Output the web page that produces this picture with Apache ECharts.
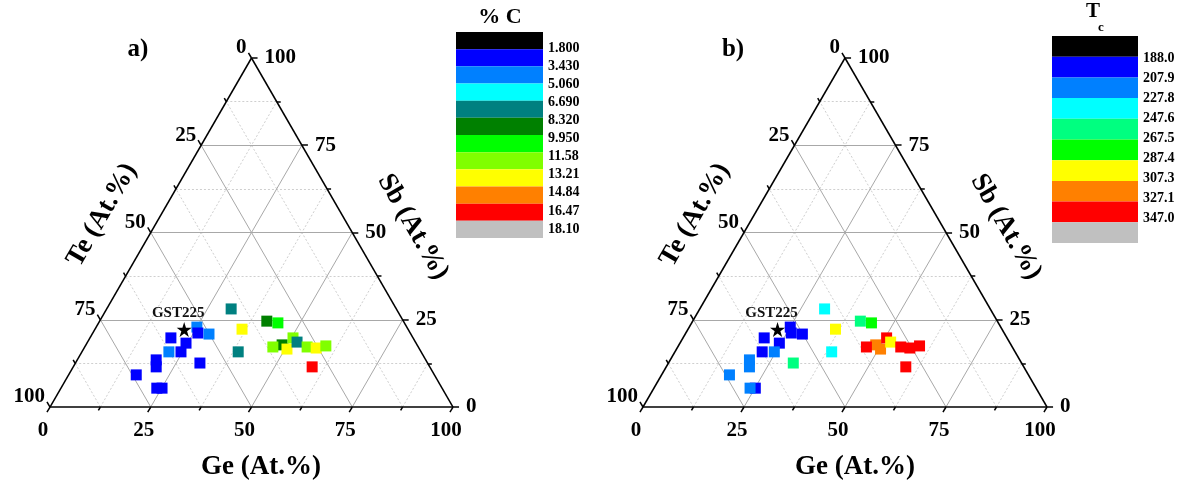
<!DOCTYPE html>
<html><head><meta charset="utf-8">
<script src="https://cdn.jsdelivr.net/npm/echarts@6/dist/echarts.min.js"></script>
<style>html,body{margin:0;padding:0;background:#fff}#c{width:1190px;height:484px}</style>
</head><body><div id="c"></div>
<script>
// ---- data (compositions in at.%; Te = 100 - Ge - Sb) ----
const ge = [30.9, 41.5, 44.5, 36.5, 25.0, 26.1, 29.0, 20.1, 24.6, 21.6, 24.6, 19.6, 20.6, 30.9, 16.8, 25.1, 23.8, 38.8, 48.7, 46.7, 50.5, 50.4, 52.0, 55.2, 57.6, 59.7, 59.3];
const sb = [28.1, 24.6, 24.1, 22.3, 22.9, 21.2, 20.9, 19.8, 18.3, 15.8, 15.8, 13.5, 11.5, 12.6, 9.2, 5.4, 5.4, 15.8, 17.8, 17.2, 16.6, 19.8, 18.6, 17.2, 16.9, 17.5, 11.5];
const carbon = [7.5, 9.1, 10.8, 14.0, 4.2, 2.6, 4.3, 2.5, 2.7, 4.0, 2.9, 2.4, 2.2, 3.0, 2.1, 2.0, 2.3, 7.2, 9.0, 12.4, 14.2, 12.0, 7.8, 12.6, 13.8, 12.2, 17.0];
const tc = [240, 258, 278, 298, 200, 199, 203, 196, 201, 198, 215, 218, 220, 255, 212, 205, 216, 238, 318, 335, 315, 332, 300, 338, 340, 336, 342];
const gst225 = {name: 'GST225', ge: 22.2, sb: 22.2};
const axisTicks = [0, 25, 50, 75, 100];
const carbonLevels = ['1.800', '3.430', '5.060', '6.690', '8.320', '9.950', '11.58', '13.21', '14.84', '16.47', '18.10'];
const carbonColors = ['#000000', '#0000FF', '#0080FF', '#00FFFF', '#008080', '#008000', '#00FF00', '#80FF00', '#FFFF00', '#FF8000', '#FF0000', '#C0C0C0'];
const tcLevels = ['188.0', '207.9', '227.8', '247.6', '267.5', '287.4', '307.3', '327.1', '347.0'];
const tcColors = ['#000000', '#0000FF', '#0080FF', '#00FFFF', '#00FF80', '#00FF00', '#FFFF00', '#FF8000', '#FF0000', '#C0C0C0'];

const SERIF = '"Liberation Serif","DejaVu Serif",serif';
const H = Math.sqrt(3) / 2;
function xy(g, s) { return [g + s / 2, s * H]; }
function bandColor(v, levels, colors) {
  const t = levels.map(Number); let k = 0;
  while (k < t.length && v >= t[k]) k++;
  return colors[k];
}

const grids = [
  {left: 50, top: 58, width: 403, height: 349},
  {left: 643, top: 58, width: 404, height: 349},
  {left: 456, top: 32, width: 87, height: 206},
  {left: 1052, top: 36, width: 86, height: 207}
];
const xAxes = [], yAxes = [], series = [];

function ternary(p, values, levels, colors) {
  xAxes.push({gridIndex: p, type: 'value', min: 0, max: 100, show: false});
  yAxes.push({gridIndex: p, type: 'value', min: 0, max: 100 * H, show: false});
  const minor = [], major = [];
  for (let v = 12.5; v < 100; v += 12.5) {
    const arr = (v % 25 === 0) ? major : minor;
    arr.push({coords: [xy(0, v), xy(100 - v, v)]});
    arr.push({coords: [xy(v, 0), xy(v, 100 - v)]});
    arr.push({coords: [xy(100 - v, 0), xy(0, 100 - v)]});
  }
  const base = {type: 'lines', coordinateSystem: 'cartesian2d', xAxisIndex: p, yAxisIndex: p, silent: true, clip: false, animation: false};
  series.push(Object.assign({}, base, {data: minor, lineStyle: {color: '#cfcfcf', width: 1, type: [2, 2], opacity: 1}}));
  series.push(Object.assign({}, base, {data: major, lineStyle: {color: '#a8a8a8', width: 1, opacity: 1}}));
  const black = [{coords: [xy(0, 0), xy(100, 0)]}, {coords: [xy(100, 0), xy(0, 100)]}, {coords: [xy(0, 100), xy(0, 0)]}];
  for (let v = 0; v <= 100; v += 12.5) {
    const L = (v % 25 === 0) ? 1.5 : 1.0;
    let a = xy(v, 0); black.push({coords: [a, [a[0] - 0.5 * L, a[1] - H * L]]});
    a = xy(0, 100 - v); black.push({coords: [a, [a[0] - 0.5 * L, a[1] + H * L]]});
    a = xy(100 - v, v); black.push({coords: [a, [a[0] + L, a[1]]]});
  }
  series.push(Object.assign({}, base, {data: black, lineStyle: {color: '#000', width: 1.5, opacity: 1}}));
  const lab = [];
  const font = {fontFamily: SERIF, fontWeight: 'bold', fontSize: 21, color: '#000', opacity: 1};
  axisTicks.forEach(v => {
    lab.push({value: xy(v, 0), label: Object.assign({position: 'bottom', distance: 13, offset: [-7, 0], formatter: String(v)}, font)});
    lab.push({value: xy(0, 100 - v), label: Object.assign({position: 'left', distance: 5, offset: [0, -10], formatter: String(v)}, font)});
    lab.push({value: xy(100 - v, v), label: Object.assign({position: 'right', distance: 13, formatter: String(v)}, font)});
  });
  series.push({type: 'scatter', xAxisIndex: p, yAxisIndex: p, symbolSize: 0, clip: false, silent: true, data: lab,
    itemStyle: {opacity: 1}, label: {show: true}, animation: false});
  series.push({
    type: 'scatter', xAxisIndex: p, yAxisIndex: p, symbol: 'rect', symbolSize: 11, clip: false, animation: false,
    data: ge.map((g, i) => ({value: xy(g, sb[i]).concat([values[i]]), itemStyle: {color: bandColor(values[i], levels, colors), opacity: 1}}))
  });
  series.push({
    type: 'scatter', xAxisIndex: p, yAxisIndex: p, clip: false, animation: false,
    symbol: 'path://M50,0 L61.8,36.2 L100,36.2 L69.1,58.6 L80.9,95.1 L50,72.7 L19.1,95.1 L30.9,58.6 L0,36.2 L38.2,36.2 Z',
    symbolSize: 15, itemStyle: {color: '#000', opacity: 1},
    data: [{value: xy(gst225.ge, gst225.sb), name: gst225.name}],
    label: {show: true, position: 'top', distance: 1, offset: [-6, 0], formatter: '{b}', fontFamily: SERIF, fontWeight: 'bold', fontSize: 15, color: '#111', opacity: 1}
  });
}

// colorbar: bands on a 0..n value axis, labels on a second value axis whose range places them as in the figure
function colorbar(p, g, levels, colors, labMin, labMax) {
  const ai = yAxes.length;
  xAxes.push({gridIndex: g, type: 'category', data: [''], show: false});
  yAxes.push({gridIndex: g, type: 'value', min: 0, max: colors.length, inverse: true, show: false});
  yAxes.push({gridIndex: g, type: 'value', min: labMin, max: labMax, inverse: true, position: 'right',
    axisLine: {show: false}, axisTick: {show: false}, splitLine: {show: false},
    axisLabel: {show: true, margin: 5, fontFamily: SERIF, fontWeight: 'bold', fontSize: 14, color: '#000',
      customValues: levels.map((_, i) => i + 1),
      formatter: v => levels[Math.round(v) - 1] || ''}});
  colors.forEach((c, i) => {
    series.push({type: 'bar', xAxisIndex: xAxes.length - 1, yAxisIndex: ai, stack: 'cb' + p, data: [1], barWidth: '100%', silent: true, animation: false,
      itemStyle: {color: c}});
  });
}

ternary(0, carbon, carbonLevels, carbonColors);
ternary(1, tc, tcLevels, tcColors);
colorbar(0, 2, carbonLevels, carbonColors, 0.116, 11.497);
colorbar(1, 3, tcLevels, tcColors, -0.1, 10.25);

function txt(text, x, y, size, rot) {
  return {type: 'text', x: x, y: y, rotation: (rot || 0) * Math.PI / 180,
    style: {text: text, font: 'bold ' + size + 'px ' + SERIF, fill: '#000', textAlign: 'center', textVerticalAlign: 'middle', align: 'center', verticalAlign: 'middle'}};
}
const graphic = [
  txt('a)', 138, 50, 25), txt('b)', 733, 50, 25),
  txt('Ge (At.%)', 261, 467, 27), txt('Ge (At.%)', 855, 467, 27),
  txt('Te (At.%)', 102, 215, 27, 60), txt('Te (At.%)', 695, 215, 27, 60),
  txt('Sb (At.%)', 413, 227, 27, -60), txt('Sb (At.%)', 1006, 227, 27, -60),
  txt('% C', 500, 17, 22),
  txt('T', 1093, 12, 21),
  txt('c', 1101, 28, 13)
];

const chart = echarts.init(document.getElementById('c'), null, {renderer: 'canvas'});
chart.setOption({backgroundColor: '#fff', animation: false, grid: grids, xAxis: xAxes, yAxis: yAxes, series: series, graphic: graphic});
</script></body></html>
